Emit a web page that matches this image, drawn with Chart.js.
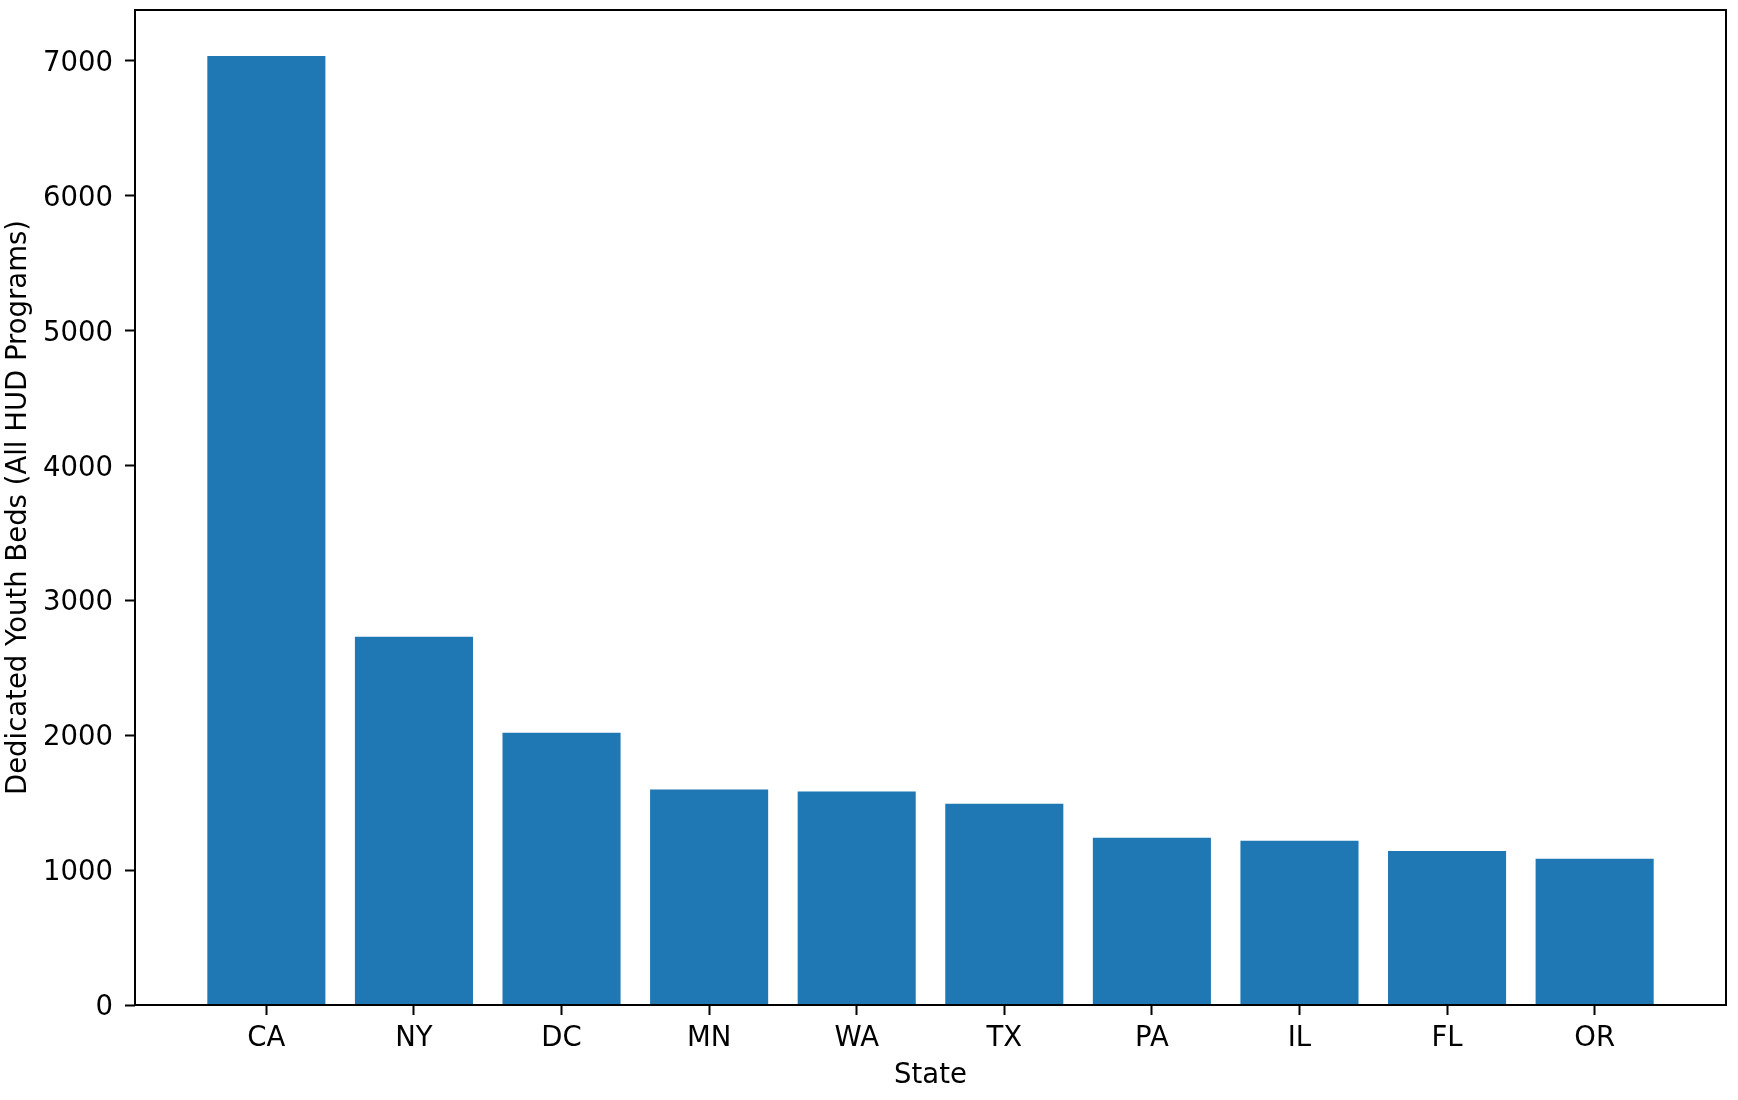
<!DOCTYPE html>
<html>
<head>
<meta charset="utf-8">
<script src="https://cdn.jsdelivr.net/npm/chart.js@4"></script>
<style>
    html, body { margin: 0; padding: 0; background: #fff; }
    #wrap { width: 1738px; height: 1100px; }
</style>
</head>
<body>
<div id="wrap"><canvas id="chartBeds"></canvas></div>
<script>
// Datos
const states = ['CA', 'NY', 'DC', 'MN', 'WA', 'TX', 'PA', 'IL', 'FL', 'OR'];
const youthBeds = [7035, 2729, 2018, 1598, 1583, 1492, 1240, 1218, 1141, 1084];
const yTicks = [0, 1000, 2000, 3000, 4000, 5000, 6000, 7000];

const barColor = '#1f77b4';
const fontFamily = '"DejaVu Sans", sans-serif';

Chart.defaults.font.family = fontFamily;
Chart.defaults.font.size = 27.5;
Chart.defaults.color = '#000';

// Marco completo alrededor del área (como los "spines" de matplotlib)
const frame = {
    id: 'frame',
    afterDraw(chart) {
        const { ctx, chartArea: a } = chart;
        ctx.save();
        ctx.strokeStyle = '#000';
        ctx.lineWidth = 2;
        ctx.strokeRect(a.left, a.top, a.right - a.left, a.bottom - a.top);
        ctx.restore();
    }
};

const ctx = document.getElementById('chartBeds').getContext('2d');
new Chart(ctx, {
    type: 'bar',
    data: {
        datasets: [{
            data: states.map((s, i) => ({ x: i, y: youthBeds[i] })),
            backgroundColor: barColor,
            borderWidth: 0,
            categoryPercentage: 1,
            barPercentage: 0.8
        }]
    },
    options: {
        responsive: true,
        maintainAspectRatio: false,
        animation: false,
        devicePixelRatio: 1,
        layout: { padding: { left: 0, top: 10, right: 12, bottom: 0 } },
        plugins: {
            legend: { display: false },
            tooltip: { enabled: false }
        },
        scales: {
            x: {
                type: 'linear',
                offset: false,
                min: -0.89,
                max: 9.89,
                afterBuildTicks: (axis) => {
                    axis.ticks = states.map((s, i) => ({ value: i }));
                },
                afterFit: (axis) => {
                    axis.height = 95;
                    axis.paddingLeft = 0;
                    axis.paddingRight = 0;
                },
                ticks: {
                    callback: (v) => states[v],
                    padding: 7,
                    maxRotation: 0,
                    autoSkip: false
                },
                grid: {
                    offset: false,
                    drawOnChartArea: false,
                    drawTicks: true,
                    tickLength: 10,
                    tickWidth: 2,
                    color: '#000'
                },
                border: { display: false },
                title: {
                    display: true,
                    text: 'State',
                    padding: { top: 0, bottom: 8 }
                }
            },
            y: {
                min: 0,
                max: 7376,
                afterBuildTicks: (axis) => {
                    axis.ticks = yTicks.map(v => ({ value: v }));
                },
                afterFit: (axis) => {
                    axis.width = 135;
                    axis.paddingTop = 0;
                    axis.paddingBottom = 0;
                },
                ticks: {
                    padding: 12,
                    labelOffset: 3,
                    callback: (v) => String(v)
                },
                grid: {
                    drawOnChartArea: false,
                    drawTicks: true,
                    tickLength: 10,
                    tickWidth: 2,
                    color: '#000'
                },
                border: { display: false },
                title: {
                    display: true,
                    text: 'Dedicated Youth Beds (All HUD Programs)',
                    padding: { top: 2, bottom: 0 }
                }
            }
        }
    },
    plugins: [frame]
});
</script>
</body>
</html>
